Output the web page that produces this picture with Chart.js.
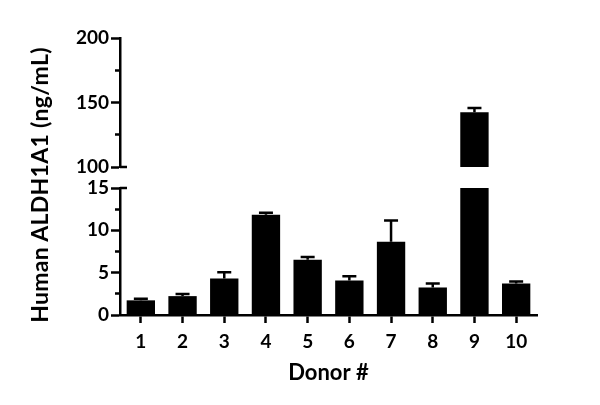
<!DOCTYPE html>
<html>
<head>
<meta charset="utf-8">
<script src="https://cdn.jsdelivr.net/npm/chart.js@4.4.1/dist/chart.umd.min.js"></script>
<style>
  html, body { margin: 0; padding: 0; background: #fff; }
  #wrap { position: relative; width: 600px; height: 405px; }
  #wrap canvas { position: absolute; left: 0; top: 0; }
  #ytitle {
    position: absolute; left: -160px; top: 170px; width: 400px; height: 30px;
    line-height: 30px; text-align: center; transform: rotate(-90deg);
    font: bold 23px Lato, sans-serif; color: #000; letter-spacing: 0.3px;
  }
</style>
</head>
<body>
<div id="wrap">
  <div style="position:absolute;left:0;top:0;width:600px;height:405px"><canvas id="topChart"></canvas></div>
  <div style="position:absolute;left:0;top:0;width:600px;height:405px"><canvas id="bottomChart"></canvas></div>
  <div id="ytitle">Human ALDH1A1 (ng/mL)</div>
</div>
<script>
const donors = ["1", "2", "3", "4", "5", "6", "7", "8", "9", "10"];
const means = [1.73, 2.23, 4.3, 11.83, 6.54, 4.08, 8.66, 3.25, 142.4, 3.72];
const errors = [0.2, 0.24, 0.75, 0.24, 0.32, 0.5, 2.5, 0.47, 3.3, 0.23];
const lowRange = [0, 15];
const highRange = [100, 200];

const FONT = "Lato, sans-serif";

// upper error bars, drawn only where the bar top falls inside this segment
const errorBars = {
  id: "errorBars",
  afterDatasetsDraw(chart) {
    const { ctx } = chart;
    const x = chart.scales.x, y = chart.scales.y;
    ctx.save();
    ctx.strokeStyle = "#000";
    ctx.lineWidth = 2.5;
    means.forEach((v, i) => {
      if (v < y.min || v > y.max) return;
      const px = x.getPixelForValue(i);
      const top = y.getPixelForValue(v);
      const tip = y.getPixelForValue(v + errors[i]);
      ctx.beginPath();
      ctx.moveTo(px, top);
      ctx.lineTo(px, tip);
      ctx.moveTo(px - 7, tip);
      ctx.lineTo(px + 7, tip);
      ctx.stroke();
    });
    ctx.restore();
  }
};

// small marks on the right of the axis where it is broken
const breakMarks = {
  id: "breakMarks",
  afterDraw(chart, args, opts) {
    const { ctx, chartArea } = chart;
    const y = chart.scales.y;
    ctx.save();
    ctx.strokeStyle = "#000";
    ctx.lineWidth = 2.5;
    ctx.beginPath();
    const py = y.getPixelForValue(opts.value);
    ctx.moveTo(chartArea.left, py);
    ctx.lineTo(chartArea.left + 7, py);
    ctx.stroke();
    ctx.restore();
  }
};

function yScale(range, step, labelEvery) {
  return {
    min: range[0],
    max: range[1],
    afterFit(scale) { scale.width = 120; },
    border: { display: true, color: "#000", width: 2.5 },
    grid: {
      drawOnChartArea: false,
      drawTicks: true,
      tickLength: 9,
      tickColor: "#000",
      tickWidth: 2.5,
      tickBorderDash: (c) => (c.tick && c.tick.value % labelEvery !== 0 ? [0, 4, 100] : []),
    },
    ticks: {
      stepSize: step,
      autoSkip: false,
      padding: 2,
      color: "#000",
      font: { family: FONT, size: 19, weight: "bold" },
      callback: (v) => (v % labelEvery === 0 ? v : ""),
    },
  };
}

new Chart(document.getElementById("topChart"), {
  type: "bar",
  data: {
    labels: donors,
    datasets: [{
      data: means.map((v) => (v > highRange[0] ? [highRange[0], v] : null)),
      backgroundColor: "#000",
      categoryPercentage: 1,
      barPercentage: 0.68,
    }],
  },
  options: {
    responsive: true,
    maintainAspectRatio: false,
    animation: false,
    layout: { padding: { top: 38, right: 63, bottom: 238, left: 0 } },
    plugins: { legend: { display: false }, tooltip: { enabled: false }, breakMarks: { value: highRange[0] } },
    scales: {
      x: { display: false },
      y: yScale(highRange, 25, 50),
    },
  },
  plugins: [errorBars, breakMarks],
});

new Chart(document.getElementById("bottomChart"), {
  type: "bar",
  data: {
    labels: donors,
    datasets: [{
      data: means.map((v) => Math.min(v, lowRange[1])),
      backgroundColor: "#000",
      categoryPercentage: 1,
      barPercentage: 0.68,
    }],
  },
  options: {
    responsive: true,
    maintainAspectRatio: false,
    animation: false,
    layout: { padding: { top: 188, right: 63, bottom: 0, left: 0 } },
    plugins: { legend: { display: false }, tooltip: { enabled: false }, breakMarks: { value: lowRange[1] } },
    scales: {
      x: {
        afterFit(scale) { scale.height = 90; },
        border: { display: true, color: "#000", width: 2.5 },
        grid: { drawOnChartArea: false, offset: false, tickLength: 8, tickColor: "#000", tickWidth: 2.5 },
        ticks: { padding: 7, color: "#000", font: { family: FONT, size: 19, weight: "bold" } },
        title: {
          display: true,
          text: "Donor #",
          color: "#000",
          font: { family: FONT, size: 22, weight: "bold" },
          padding: { top: 0, bottom: 19 },
        },
      },
      y: yScale(lowRange, 2.5, 5),
    },
  },
  plugins: [errorBars, breakMarks],
});
</script>
</body>
</html>
